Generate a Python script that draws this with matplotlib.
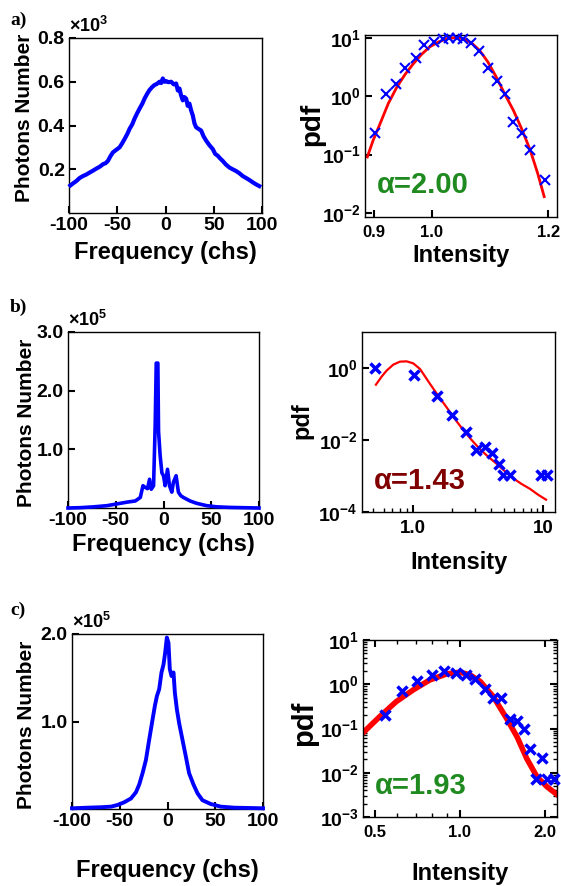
# Spectra (left) and intensity pdfs with fitted curves (right) for three cases a), b), c)
import numpy as np
import matplotlib
matplotlib.use('Agg')
import matplotlib.pyplot as plt
from matplotlib.ticker import FuncFormatter, NullLocator, LogLocator

plt.rcParams['font.family'] = ['Liberation Sans', 'DejaVu Sans']
plt.rcParams['font.weight'] = 'bold'
plt.rcParams['axes.unicode_minus'] = False
plt.rcParams['mathtext.fontset'] = 'custom'
plt.rcParams['mathtext.rm'] = 'Liberation Sans:bold'
plt.rcParams['mathtext.bf'] = 'Liberation Sans:bold'
plt.rcParams['mathtext.it'] = 'Liberation Sans:bold'

# ---- data ----
# a) spectrum, photons number in units of 1e3
freq_a = [-98.6, -95.0, -92.4, -89.0, -85.5, -82.0, -78.6, -75.0, -71.7, -68.0, -64.8, -62.0,
          -59.7, -57.0, -54.5, -51.0, -47.6, -45.0, -42.4, -39.5, -37.2, -34.5, -32.1, -29.5,
          -26.9, -24.0, -21.7, -19.0, -16.6, -14.0, -11.4, -9.0, -6.2, -4.5, -2.8, -1.0, 0.7,
          3.0, 5.9, 8.5, 11.0, 12.8, 14.5, 16.0, 17.9, 19.5, 21.4, 23.0, 24.8, 26.5, 28.3, 30.0,
          31.7, 34.0, 36.9, 39.5, 42.1, 45.5, 49.0, 51.5, 54.1, 56.5, 59.3, 62.5, 66.2, 69.5,
          73.1, 76.5, 80.0, 83.5, 86.9, 90.5, 93.8, 97.2]
counts_a = [0.126, 0.138, 0.146, 0.160, 0.169, 0.176, 0.185, 0.194, 0.203, 0.212, 0.223, 0.228,
            0.238, 0.260, 0.277, 0.289, 0.300, 0.318, 0.338, 0.362, 0.385, 0.405, 0.431, 0.455,
            0.477, 0.500, 0.523, 0.545, 0.562, 0.575, 0.585, 0.590, 0.600, 0.594, 0.615, 0.600,
            0.603, 0.598, 0.600, 0.588, 0.592, 0.560, 0.569, 0.540, 0.515, 0.530, 0.523, 0.490,
            0.500, 0.470, 0.446, 0.410, 0.392, 0.385, 0.377, 0.350, 0.331, 0.310, 0.292, 0.270,
            0.262, 0.250, 0.238, 0.222, 0.208, 0.200, 0.192, 0.182, 0.169, 0.160, 0.151, 0.140,
            0.131, 0.123]

# b) spectrum, photons number in units of 1e5
freq_b = [-100, -86.8, -72.9, -59.0, -48.6, -38.2, -29.5, -24.3, -21.5, -19.1, -16.7, -14.6,
          -12.8, -10.4, -8.7, -7.6, -5.9, -5.2, -3.5, -1.7, 0.0, 1.7, 4.2, 6.3, 8.7, 10.4, 13.2,
          15.6, 18.1, 20.8, 27.8, 34.7, 45.1, 55.6, 69.4, 100]
counts_b = [0.0, 0.006, 0.02, 0.04, 0.07, 0.10, 0.12, 0.18, 0.38, 0.35, 0.33, 0.49, 0.32, 0.38,
            1.42, 2.47, 2.47, 1.31, 0.89, 0.60, 0.55, 0.38, 0.66, 0.38, 0.27, 0.44, 0.55, 0.27,
            0.21, 0.18, 0.12, 0.08, 0.04, 0.02, 0.01, 0.0]

# c) spectrum, photons number in units of 1e5
freq_c = [-100, -83.6, -69.7, -59.2, -52.3, -45.3, -38.3, -33.1, -29.6, -26.1, -22.6, -19.2,
          -15.7, -13.2, -11.1, -8.7, -6.3, -4.2, -2.4, -0.7, 1.0, 2.4, 4.2, 6.3, 7.7, 9.8, 12.2,
          15.7, 19.2, 22.6, 27.2, 31.4, 36.6, 45.3, 55.7, 69.7, 100]
counts_c = [0.008, 0.015, 0.02, 0.027, 0.046, 0.077, 0.12, 0.19, 0.28, 0.41, 0.56, 0.79, 1.02,
            1.18, 1.29, 1.37, 1.56, 1.65, 1.79, 1.96, 1.90, 1.60, 1.52, 1.56, 1.33, 1.14, 0.98,
            0.79, 0.60, 0.41, 0.28, 0.18, 0.10, 0.057, 0.027, 0.015, 0.008]

# a) intensity pdf: measured points and fit
int_a = [0.902, 0.921, 0.939, 0.954, 0.972, 0.987, 1.004, 1.019, 1.030, 1.043, 1.053, 1.067,
         1.081, 1.096, 1.112, 1.126, 1.140, 1.154, 1.169, 1.195]
pdf_a = [0.23, 1.08, 1.6, 3.0, 4.6, 7.5, 8.5, 9.4, 10.0, 10.0, 9.7, 8.2, 6.0, 3.0, 1.8, 1.1,
         0.36, 0.23, 0.12, 0.037]
fit_int_a = [0.889, 0.899, 0.911, 0.925, 0.940, 0.954, 0.968, 0.982, 0.996, 1.011, 1.025, 1.040,
             1.054, 1.068, 1.082, 1.096, 1.111, 1.125, 1.140, 1.154, 1.169, 1.182, 1.193]
fit_pdf_a = [0.091, 0.176, 0.34, 0.75, 1.45, 2.38, 3.6, 5.2, 7.0, 8.5, 9.7, 10.1, 9.7, 8.2, 6.1,
             3.9, 2.1, 1.1, 0.575, 0.28, 0.119, 0.047, 0.019]

# b) intensity pdf
int_b = [0.52, 1.02, 1.53, 2.02, 2.55, 3.05, 3.58, 4.02, 4.55, 4.94, 5.56, 9.6, 10.6]
pdf_b = [1.0, 0.62, 0.167, 0.050, 0.017, 0.0053, 0.0065, 0.0043, 0.0022, 0.0011, 0.0011,
         0.0011, 0.0011]
fit_int_b = [0.524, 0.579, 0.632, 0.711, 0.80, 0.90, 1.01, 1.14, 1.36, 1.57, 1.82, 2.11, 2.44,
             2.83, 3.27, 3.80, 4.39, 5.09, 5.89, 6.83, 7.91, 9.16, 10.5]
fit_pdf_b = [0.344, 0.574, 0.843, 1.24, 1.50, 1.53, 1.35, 0.94, 0.36, 0.170, 0.081, 0.038,
             0.019, 0.010, 0.0056, 0.0034, 0.0022, 0.00135, 0.00086, 0.0006, 0.00044, 0.0003,
             0.00022]

# c) intensity pdf
int_c = [0.543, 0.627, 0.706, 0.794, 0.878, 0.968, 1.05, 1.13, 1.23, 1.31, 1.40, 1.50, 1.59,
         1.68, 1.77, 1.86, 1.95, 2.03, 2.14]
pdf_c = [0.20, 0.71, 1.21, 1.63, 2.0, 1.78, 1.63, 1.30, 0.77, 0.50, 0.50, 0.16, 0.148, 0.10,
         0.034, 0.0071, 0.021, 0.0071, 0.0071]
fit_int_c = [0.455, 0.521, 0.596, 0.684, 0.783, 0.897, 1.0, 1.085, 1.18, 1.31, 1.46, 1.59, 1.72,
             1.87, 2.03, 2.19]
fit_pdf_c = [0.080, 0.185, 0.405, 0.745, 1.25, 1.71, 1.87, 1.63, 1.15, 0.53, 0.17, 0.065, 0.021,
             0.0081, 0.0048, 0.0033]

alpha_labels = ['α=2.00', 'α=1.43', 'α=1.93']

# ---- layout (pixels in a 561x886 canvas) ----
W, H = 561, 886
fig = plt.figure(figsize=(W / 100, H / 100), dpi=100)


def px_axes(x0, y0, x1, y1):
    ax = fig.add_axes([x0 / W, 1 - y1 / H, (x1 - x0) / W, (y1 - y0) / H])
    ax.px = (x0, y0, x1, y1)
    for s in ax.spines.values():
        s.set_linewidth(1.0)
    return ax


def place_labels(ax, xlab, xtop, xsize, ylab, yright, ycen, ysize):
    x0, y0, x1, y1 = ax.px
    ax.set_xlabel(xlab, fontsize=xsize, fontweight='bold')
    ax.set_ylabel(ylab, fontsize=ysize, fontweight='bold')
    ax.xaxis.set_label_coords(0.5, -(xtop - y1) / (y1 - y0))
    ax.yaxis.set_label_coords((yright - x0) / (x1 - x0), (y1 - ycen) / (y1 - y0))


def spectrum(ax, freq, counts, ymax, yticks, expo, lw):
    ax.plot(freq, counts, color='#0000ff', lw=lw, clip_on=False, zorder=3)
    ax.set_xlim(-100, 100)
    ax.set_ylim(0, ymax)
    ax.set_xticks([-100, -50, 0, 50, 100])
    ax.set_yticks(yticks)
    ax.yaxis.set_major_formatter(FuncFormatter(lambda v, p: f'{v:.1f}'))
    ax.tick_params(direction='in', length=5, width=1.5, labelsize=14, pad=3)
    ax.text(0.0, 1.01, r'$\times$10$^{%d}$' % expo, transform=ax.transAxes,
            fontsize=13, ha='left', va='bottom')


def decade(v, p):
    return r'$\mathbf{10^{%d}}$' % int(round(np.log10(v)))


def pdf_panel(ax, xs, ys, fx, fy, lw, mew, color, label, xsize):
    ax.plot(fx, fy, color='#ff0000', lw=lw, zorder=2)
    ax.plot(xs, ys, 'x', color='#0000ff', ms=7, mew=mew, zorder=3, clip_on=False)
    ax.set_yscale('log')
    ax.yaxis.set_major_formatter(FuncFormatter(decade))
    ax.yaxis.set_minor_locator(NullLocator())
    ax.tick_params(direction='in', length=5, width=1.5, labelsize=14, pad=3)
    ax.tick_params(axis='x', labelsize=xsize, pad=6)
    ax.tick_params(which='minor', direction='in', length=3, width=1)
    ax.text(0.06, 0.13, label, transform=ax.transAxes, color=color,
            fontsize=21, fontweight='bold', ha='left', va='baseline')


# a)
ax = px_axes(69, 38, 262, 213)
spectrum(ax, freq_a, counts_a, 0.8, [0.2, 0.4, 0.6, 0.8], 3, 3.0)
place_labels(ax, 'Frequency (chs)', 241, 17, 'Photons Number', 34, 118, 15)

ax = px_axes(365, 35, 557, 217)
pdf_panel(ax, int_a, pdf_a, fit_int_a, fit_pdf_a, 2.0, 1.5, '#1f8a1f', alpha_labels[0], 12)
ax.set_xlim(0.885, 1.215)
ax.set_ylim(10 ** -2.07, 10 ** 1.05)
ax.set_xticks([0.9, 1.0, 1.2], ['0.9', '1.0', '1.2'])
ax.set_yticks([1e-2, 1e-1, 1e0, 1e1])
place_labels(ax, 'Intensity', 244, 17, 'pdf', 325, 124, 20)

# b)
ax = px_axes(68, 332, 259, 508)
spectrum(ax, freq_b, counts_b, 3.0, [1.0, 2.0, 3.0], 5, 2.6)
place_labels(ax, 'Frequency (chs)', 533, 17, 'Photons Number', 36, 423, 15)

ax = px_axes(362, 332, 555, 512)
pdf_panel(ax, int_b, pdf_b, fit_int_b, fit_pdf_b, 1.6, 2.5, '#800000', alpha_labels[1], 13.5)
ax.set_xscale('log')
ax.set_xlim(0.41, 12.3)
ax.set_ylim(1e-4, 1e1)
ax.set_xticks([1, 10], ['1.0', '10'])
ax.xaxis.set_minor_locator(LogLocator(subs=np.arange(2, 10)))
ax.xaxis.set_minor_formatter(FuncFormatter(lambda v, p: ''))
ax.set_yticks([1e-4, 1e-2, 1e0])
place_labels(ax, 'Intensity', 551, 17, 'pdf', 313, 421, 17)

# c)
ax = px_axes(72, 634, 263, 809)
spectrum(ax, freq_c, counts_c, 2.0, [1.0, 2.0], 5, 2.8)
place_labels(ax, 'Frequency (chs)', 859, 17, 'Photons Number', 36, 725, 15)

ax = px_axes(363, 640, 557, 817)
pdf_panel(ax, int_c, pdf_c, fit_int_c, fit_pdf_c, 4.0, 2.5, '#1f8a1f', alpha_labels[2], 12)
ax.set_xscale('log')
ax.set_xlim(0.455, 2.2)
ax.set_ylim(1e-3, 1e1)
ax.set_xticks([0.5, 1.0, 2.0], ['0.5', '1.0', '2.0'])
ax.xaxis.set_minor_locator(LogLocator(subs=np.arange(2, 10), numticks=20))
ax.xaxis.set_minor_formatter(FuncFormatter(lambda v, p: ''))
ax.yaxis.set_minor_locator(LogLocator(subs=np.arange(2, 10), numticks=20))
ax.yaxis.set_minor_formatter(FuncFormatter(lambda v, p: ''))
ax.set_yticks([1e-3, 1e-2, 1e-1, 1e0, 1e1])
ax.tick_params(which='both', top=True, right=True)
place_labels(ax, 'Intensity', 862, 17, 'pdf', 318, 723, 21)

# panel letters
for letter, y in [('a)', 25), ('b)', 312), ('c)', 615)]:
    fig.text(10 / W, 1 - y / H, letter, family='Liberation Serif', fontweight='bold',
             fontsize=14, ha='left', va='baseline')

plt.savefig('out.png', dpi=100)
